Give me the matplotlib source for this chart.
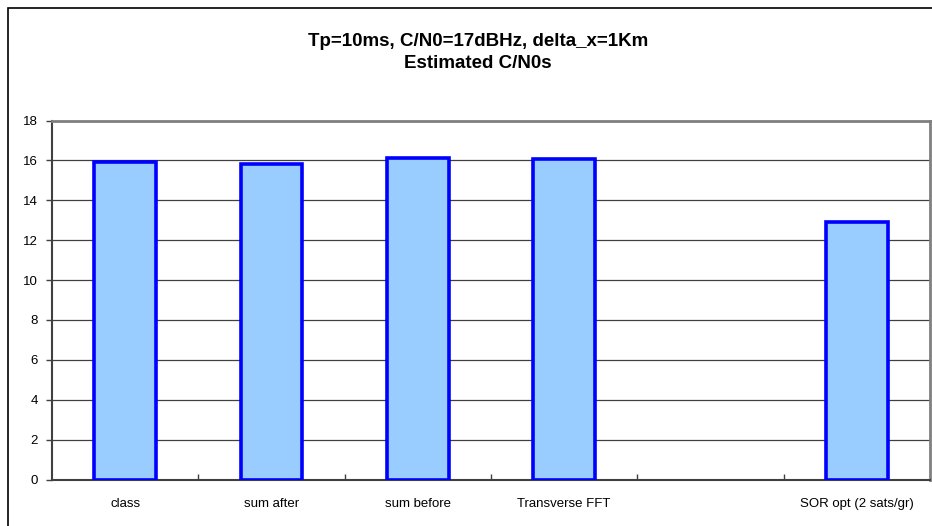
import matplotlib
matplotlib.use("Agg")
import matplotlib.pyplot as plt
from matplotlib.patches import Rectangle

categories = ["class", "sum after", "sum before", "Transverse FFT", "", "SOR opt (2 sats/gr)"]
values = [15.9, 15.82, 16.12, 16.07, None, 12.93]
yticks = [0, 2, 4, 6, 8, 10, 12, 14, 16, 18]

plt.rcParams['font.family'] = ['Liberation Sans', 'DejaVu Sans']

W, H = 932, 526
fig = plt.figure(figsize=(W / 100, H / 100), dpi=100)
fig.patch.set_facecolor("white")

# outer chart border (left and top visible)
fig.add_artist(Rectangle((8 / W, -0.1), 1.2, 1 - 8 / H + 0.1, transform=fig.transFigure,
                         fill=False, edgecolor="black", linewidth=1.2))

ax = fig.add_axes([52 / W, (H - 479.5) / H, (930 - 52) / W, (479.5 - 120.5) / H])
ax.set_facecolor("white")

xs = [i for i, v in enumerate(values) if v is not None]
vs = [v for v in values if v is not None]
ax.bar(xs, vs, width=0.42, color="#99CCFF", edgecolor="#0000FF", linewidth=2.6, zorder=3)

ax.set_xlim(-0.5, len(categories) - 0.5)
ax.set_ylim(0, 18)
ax.set_yticks(yticks)
ax.set_yticklabels([str(t) for t in yticks], fontsize=9.5)
ax.yaxis.grid(True, color="#404040", linewidth=0.9, zorder=1)
ax.set_axisbelow(True)

ax.set_xticks(range(len(categories)))
ax.set_xticklabels(categories, fontsize=9.5)
ax.tick_params(axis="x", length=0, pad=13)
ax.set_xticks([i + 0.5 for i in range(len(categories) - 1)], minor=True)
ax.tick_params(axis="x", which="minor", length=4, direction="in", color="#404040", width=1)
ax.tick_params(axis="y", length=4, direction="out", color="#404040", width=1, pad=6)

for side in ["left", "bottom"]:
    ax.spines[side].set_color("#404040")
    ax.spines[side].set_linewidth(1.5)
for side in ["top", "right"]:
    ax.spines[side].set_color("#808080")
    ax.spines[side].set_linewidth(2)

fig.text(478 / W, 1 - 41 / H, "Tp=10ms, C/N0=17dBHz, delta_x=1Km", ha="center", va="center",
         fontsize=13.5, fontweight="bold")
fig.text(478 / W, 1 - 63.5 / H, "Estimated C/N0s", ha="center", va="center",
         fontsize=13.5, fontweight="bold")

fig.savefig("out.png", dpi=100, facecolor="white")
